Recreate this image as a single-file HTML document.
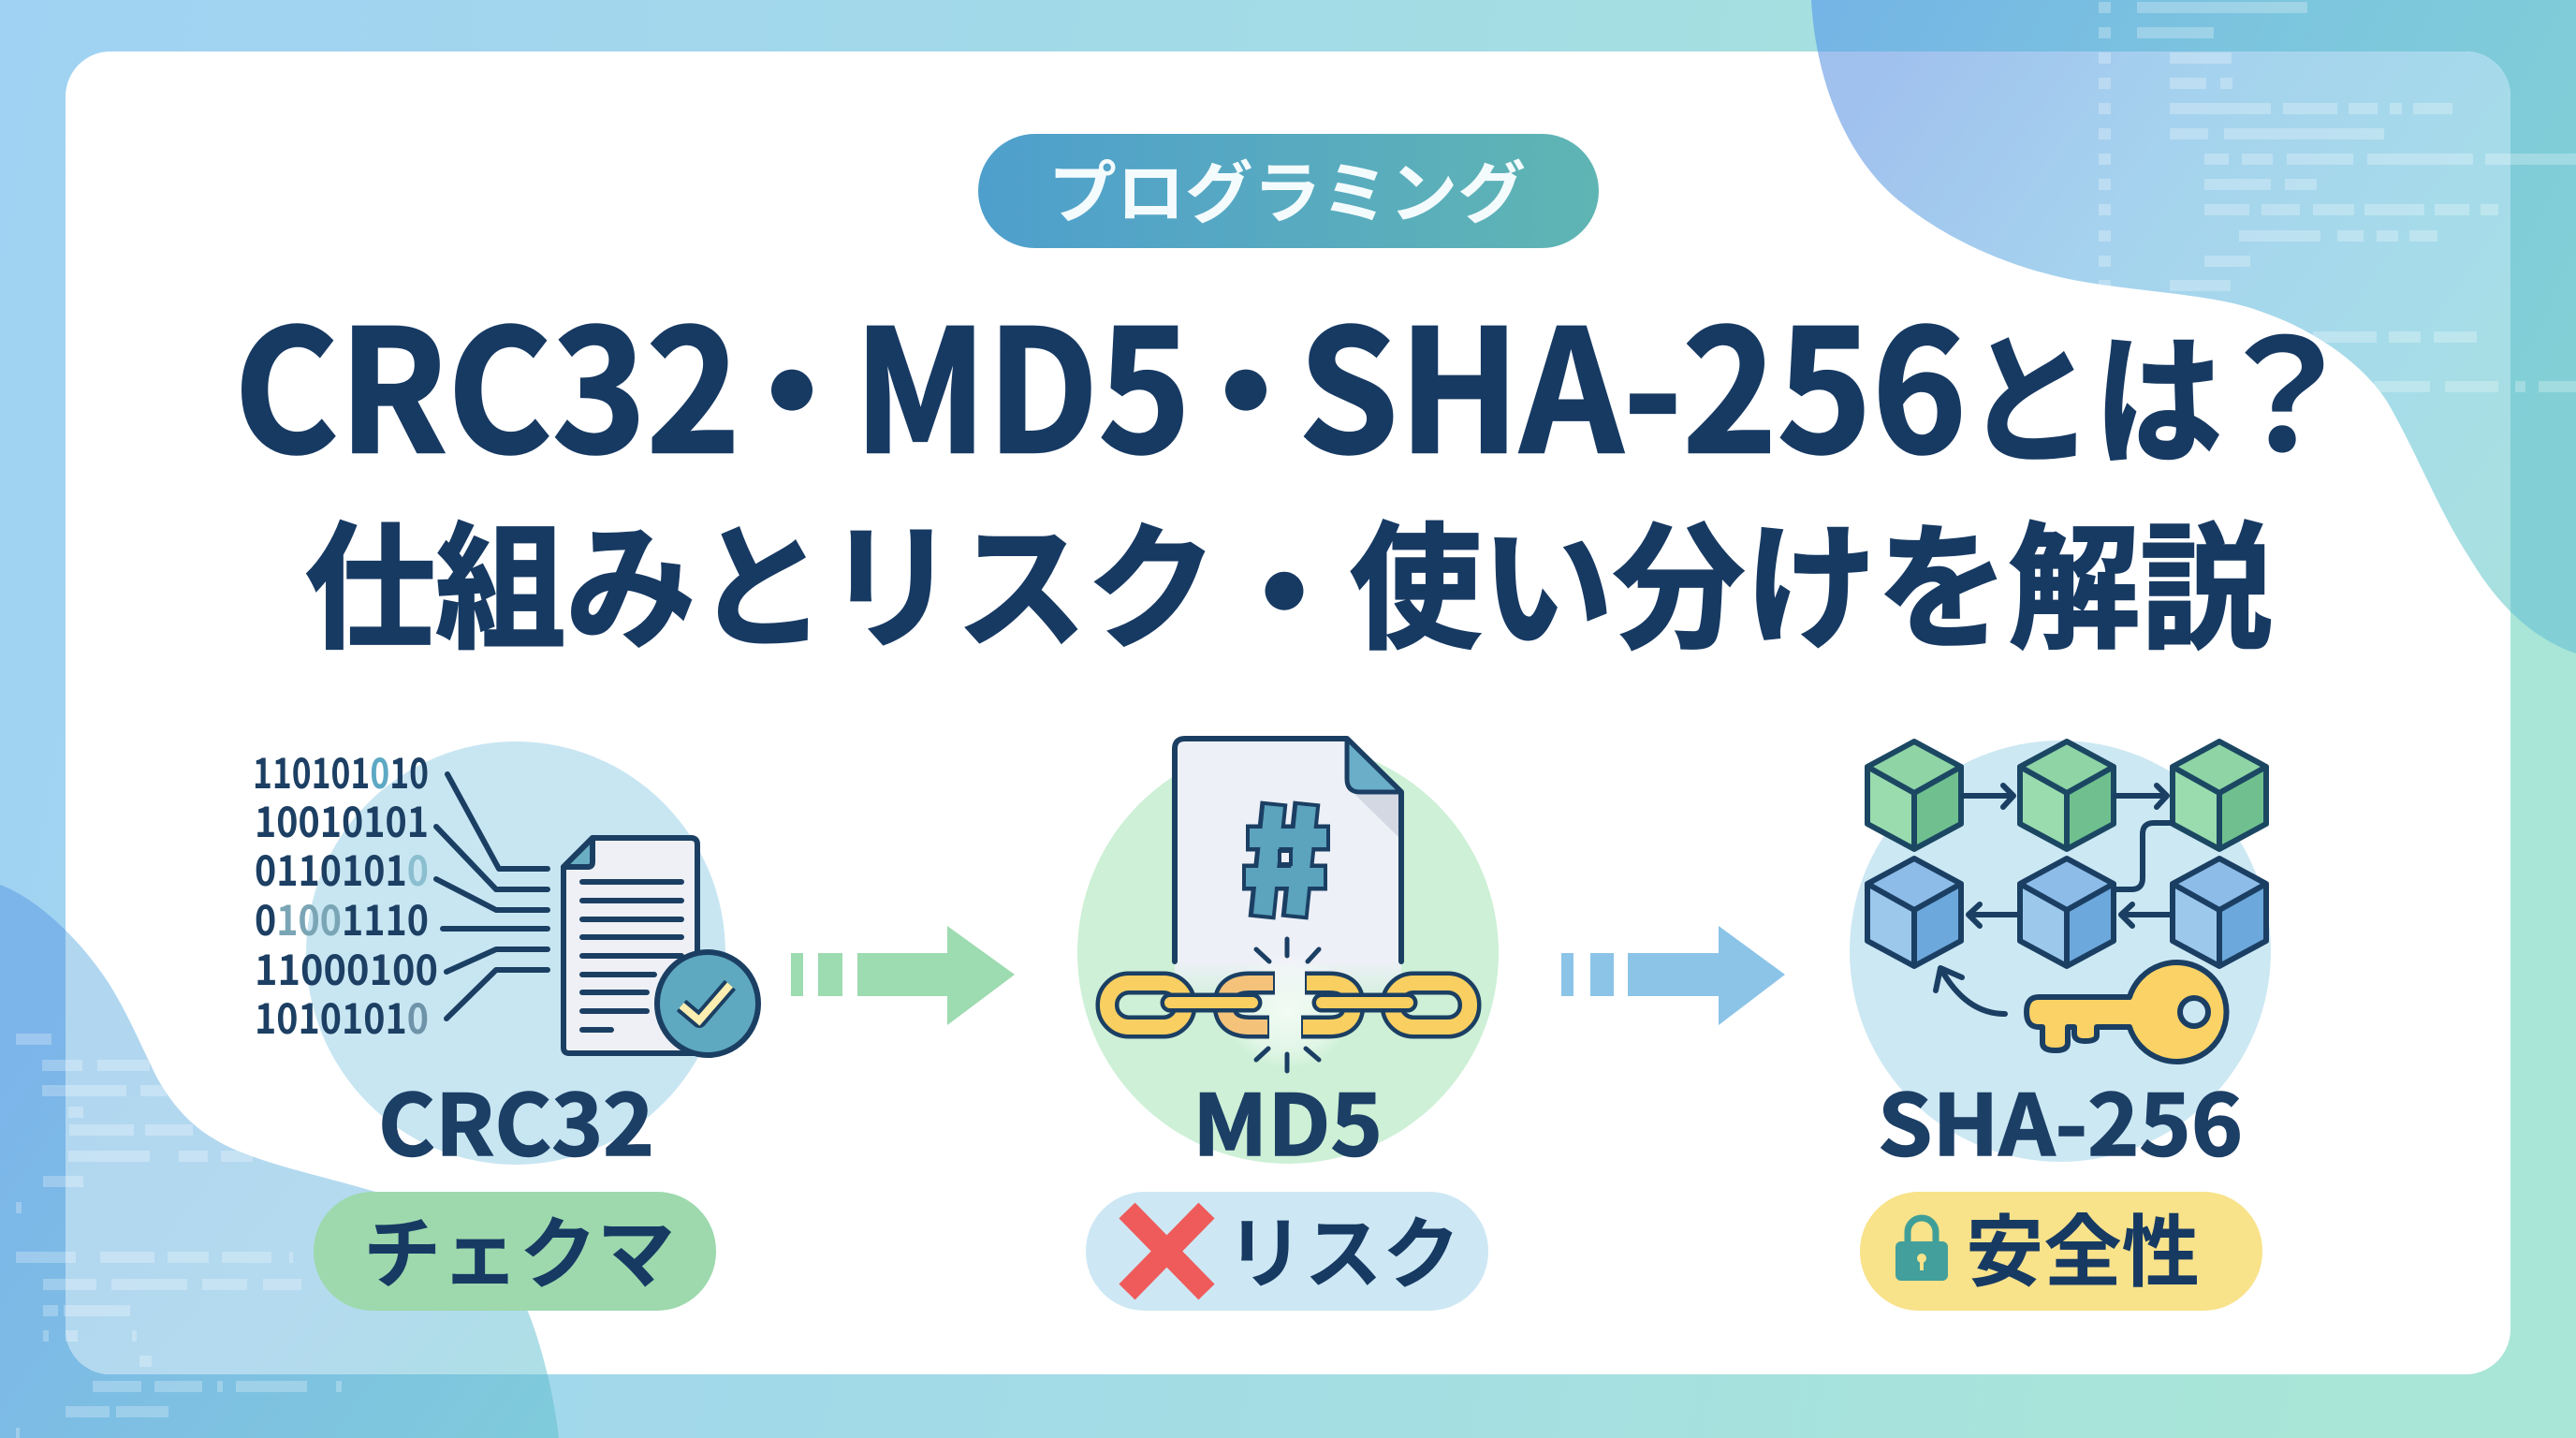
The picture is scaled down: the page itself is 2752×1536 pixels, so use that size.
<!DOCTYPE html>
<html lang="ja"><head><meta charset="utf-8"><title>CRC32・MD5・SHA-256とは？</title>
<style>
html,body{margin:0;padding:0;background:#fff}
svg{display:block}
text{font-family:"Noto Sans CJK JP","Liberation Sans",sans-serif}
.n{font-weight:700;fill:#173a63}
.t{stroke:#173a63;stroke-width:2.5}
.b{font-weight:700;font-size:44px;fill:#1c3f63}
.s{fill:none;stroke:#1b3f63;stroke-width:6;stroke-linecap:round;stroke-linejoin:round}
</style></head><body>
<svg xmlns="http://www.w3.org/2000/svg" width="2752" height="1536" viewBox="0 0 2752 1536">
<defs>
<linearGradient id="bg" x1="0" y1="0" x2="1" y2="0.1"><stop offset="0" stop-color="#a0d2f3"/><stop offset=".5" stop-color="#a3dbe6"/><stop offset="1" stop-color="#a9e6d7"/></linearGradient>
<linearGradient id="tr" gradientUnits="userSpaceOnUse" x1="1935" y1="0" x2="2752" y2="400"><stop offset="0" stop-color="#74b4e6"/><stop offset=".5" stop-color="#7cc5de"/><stop offset="1" stop-color="#82d0d6"/></linearGradient>
<linearGradient id="tri" gradientUnits="userSpaceOnUse" x1="1960" y1="120" x2="2680" y2="620"><stop offset="0" stop-color="#a0c0ee"/><stop offset=".35" stop-color="#a5d2ee"/><stop offset=".7" stop-color="#a6dcea"/><stop offset="1" stop-color="#a8e0e0"/></linearGradient>
<linearGradient id="bl" gradientUnits="userSpaceOnUse" x1="40" y1="1100" x2="600" y2="1500"><stop offset="0" stop-color="#7cb5ea"/><stop offset="1" stop-color="#7fcadb"/></linearGradient>
<linearGradient id="bli" gradientUnits="userSpaceOnUse" x1="70" y1="1050" x2="590" y2="1460"><stop offset="0" stop-color="#b0d6f0"/><stop offset=".6" stop-color="#b4daef"/><stop offset="1" stop-color="#aedfe6"/></linearGradient>
<linearGradient id="pill" x1="0" y1="0" x2="1" y2="0"><stop offset="0" stop-color="#4f9fcd"/><stop offset="1" stop-color="#5fb5b3"/></linearGradient>
<linearGradient id="fade" x1="0" y1="0" x2="0" y2="1"><stop offset="0" stop-color="#eef0f7"/><stop offset="1" stop-color="#eef0f7" stop-opacity="0"/></linearGradient>
<radialGradient id="glow"><stop offset="0" stop-color="#fff" stop-opacity=".75"/><stop offset=".7" stop-color="#fff" stop-opacity=".4"/><stop offset="1" stop-color="#fff" stop-opacity="0"/></radialGradient>
<clipPath id="card"><rect x="70" y="55" width="2612" height="1413" rx="48"/></clipPath>
<clipPath id="blobs"><path d="M1935,0 C1940,90 1975,175 2036,220 C2090,262 2160,290 2226,301 C2290,312 2370,315 2416,333 C2480,355 2530,395 2552,432 C2585,490 2605,545 2639,597 C2665,640 2700,680 2752,698 L2752,0 Z"/><path d="M0,945 C45,962 90,1010 116,1050 C135,1080 150,1115 160,1135 C175,1170 200,1200 228,1216 C265,1240 340,1255 394,1271 C470,1290 535,1340 564,1401 C578,1435 592,1490 597,1536 L0,1536 Z"/></clipPath>
<path id="trp" d="M1935,0 C1940,90 1975,175 2036,220 C2090,262 2160,290 2226,301 C2290,312 2370,315 2416,333 C2480,355 2530,395 2552,432 C2585,490 2605,545 2639,597 C2665,640 2700,680 2752,698 L2752,0 Z"/>
<path id="blp" d="M0,945 C45,962 90,1010 116,1050 C135,1080 150,1115 160,1135 C175,1170 200,1200 228,1216 C265,1240 340,1255 394,1271 C470,1290 535,1340 564,1401 C578,1435 592,1490 597,1536 L0,1536 Z"/>
<g id="cg"><path d="M0,0 L50,27 L50,88 L0,115 L-50,88 L-50,27 Z" fill="#9adcae"/><path d="M0,0 L50,27 L0,55 L-50,27 Z" fill="#8fd4a5"/><path d="M0,55 L50,27 L50,88 L0,115 Z" fill="#6fc08e"/><path d="M0,0 L50,27 L50,88 L0,115 L-50,88 L-50,27 Z M-50,27 L0,55 L50,27 M0,55 V115" fill="none" stroke="#1b4763" stroke-width="6" stroke-linejoin="round"/></g>
<g id="cb"><path d="M0,0 L50,27 L50,88 L0,115 L-50,88 L-50,27 Z" fill="#9cc8ec"/><path d="M0,0 L50,27 L0,55 L-50,27 Z" fill="#8ebce8"/><path d="M0,55 L50,27 L50,88 L0,115 Z" fill="#6ca8dc"/><path d="M0,0 L50,27 L50,88 L0,115 L-50,88 L-50,27 Z M-50,27 L0,55 L50,27 M0,55 V115" fill="none" stroke="#1b3f63" stroke-width="6" stroke-linejoin="round"/></g>
</defs>

<rect width="2752" height="1536" fill="url(#bg)"/>
<use href="#trp" fill="url(#tr)"/>
<use href="#blp" fill="url(#bl)"/>
<rect x="70" y="55" width="2612" height="1413" rx="48" fill="#fff"/>
<g clip-path="url(#card)"><use href="#trp" fill="url(#tri)"/><use href="#blp" fill="url(#bli)"/></g>

<g clip-path="url(#blobs)"><g fill="none" stroke="#fff" stroke-width="12" opacity=".26">
<path d="M2242,8h13M2242,35h13M2242,62h13M2242,89h13M2242,116h13M2242,143h13M2242,170h13M2242,197h13M2242,224h13M2242,252h13M2242,279h13M2242,305h13"/>
<path d="M2283,8H2465M2283,35H2365M2318,62H2384M2318,89H2357M2372,89H2385M2318,116H2426M2439,116H2497M2509,116H2540M2553,116H2566M2578,116H2620M2318,143H2359M2376,143H2547M2355,170H2381M2395,170H2428M2443,170H2514M2529,170H2642M2655,170H2752M2355,197H2426M2441,197H2475M2355,224H2403M2416,224H2457M2471,224H2515M2526,224H2590M2601,224H2638M2650,224H2669M2392,252H2479M2497,252H2525M2539,252H2562M2574,252H2604M2355,279H2404M2318,305H2383M2471,360H2539M2552,360H2586M2600,360H2646M2536,413H2596M2612,413H2669M2687,413H2698M2712,413H2752"/>
<path d="M17,1110H55M45,1138H88M104,1138H160M45,1165H135M150,1165H178M73,1188H89M74,1207H143M155,1207H206M73,1235H160M191,1235H222M236,1235H270M46,1262H89M17,1290H23M17,1343H81M107,1343H165M179,1343H223M237,1343H290M309,1343H313M46,1372H103M119,1372H200M216,1372H264M281,1372H322M46,1400H62M68,1400H139M46,1427H52M70,1427H83M141,1427H146M149,1454H162M99,1481H151M165,1481H216M232,1481H238M252,1481H328M359,1481H365M70,1508H117M124,1508H180M17,1531H21"/>
</g></g>

<!-- top pill -->
<rect x="1045" y="143" width="663" height="122" rx="61" fill="url(#pill)"/>
<text x="1120" y="232" font-size="72" textLength="510" lengthAdjust="spacingAndGlyphs" font-weight="700" fill="#f4fbfd">プログラミング</text>

<!-- title -->
<text class="n t" x="250" y="483" font-size="181" textLength="541" lengthAdjust="spacingAndGlyphs">CRC32</text>
<text class="n" x="846" y="482" font-size="172" text-anchor="middle">・</text>
<text class="n t" x="912" y="483" font-size="181" textLength="360" lengthAdjust="spacingAndGlyphs">MD5</text>
<text class="n" x="1331" y="482" font-size="172" text-anchor="middle">・</text>
<text class="n t" x="1387" y="483" font-size="181" textLength="714" lengthAdjust="spacingAndGlyphs">SHA-256</text>
<text class="n t" x="2100" y="483" font-size="152" textLength="274" lengthAdjust="spacingAndGlyphs">とは</text>
<text class="n" x="2440" y="482" font-size="165" text-anchor="middle">？</text>
<text class="n t" x="326" y="680" font-size="146" textLength="974" lengthAdjust="spacingAndGlyphs">仕組みとリスク</text>
<text class="n" x="1372" y="692" font-size="160" text-anchor="middle">・</text>
<text class="n t" x="1442" y="680" font-size="146" textLength="985" lengthAdjust="spacingAndGlyphs">使い分けを解説</text>

<!-- circles -->
<ellipse cx="551" cy="1018" rx="224" ry="226" fill="#c8e6f2"/>
<ellipse cx="1376" cy="1018" rx="225" ry="225" fill="#cdf0d6"/>
<circle cx="2201" cy="1016" r="225" fill="#cce8f3"/>

<!-- CRC32 icon -->
<text class="b" x="270" y="842" textLength="188" lengthAdjust="spacingAndGlyphs">110101<tspan fill="#5da9c4">0</tspan>10</text>
<text class="b" x="272" y="894" textLength="186" lengthAdjust="spacingAndGlyphs">10010101</text>
<text class="b" x="272" y="946" textLength="186" lengthAdjust="spacingAndGlyphs">0110101<tspan fill="#8bbfcf">0</tspan></text>
<text class="b" x="272" y="999" textLength="186" lengthAdjust="spacingAndGlyphs">0<tspan fill="#7aa5b5">100</tspan>1110</text>
<text class="b" x="272" y="1052" textLength="196" lengthAdjust="spacingAndGlyphs">11000100</text>
<text class="b" x="272" y="1104" textLength="186" lengthAdjust="spacingAndGlyphs">1010101<tspan fill="#6f93a8">0</tspan></text>
<path class="s" d="M478,827L533,928H585M466,883L530,950H585M466,939L530,972H585M473,992H585M477,1038L530,1014H585M477,1088L530,1036H585"/>
<path d="M633,895H738Q745,895 745,902V1125H608Q602,1125 602,1119V926Z" fill="#eef0f6" stroke="#1b3f63" stroke-width="6" stroke-linejoin="round"/>
<path d="M633,895L602,926H628Q633,926 633,921Z" fill="#6aaec4" stroke="#1b3f63" stroke-width="6" stroke-linejoin="round"/>
<path class="s" d="M622,942H728M622,962H728M622,982H728M622,1001H728M622,1021H728M622,1041H699M622,1060H691M622,1080H691M622,1100H653"/>
<ellipse cx="756" cy="1072" rx="54" ry="55" fill="#5fa9c0" stroke="#1b3f63" stroke-width="6"/>
<path d="M728,1074L747,1090L780,1052" fill="none" stroke="#1b3f63" stroke-width="16" stroke-linejoin="round"/>
<path d="M728,1074L747,1090L780,1052" fill="none" stroke="#fbeeb0" stroke-width="8"/>

<!-- arrows -->
<path fill="#9ddbb0" d="M845,1018H858V1064H845ZM874,1018H900V1064H874ZM916,1018H1012V989L1084,1041L1012,1095V1064H916Z"/>
<path fill="#8cc4e8" d="M1668,1018H1681V1064H1668ZM1699,1018H1724V1064H1699ZM1739,1018H1836V989L1907,1041L1836,1095V1064H1739Z"/>

<!-- MD5 icon -->
<path d="M1255,1027V800Q1255,789 1266,789H1439L1497,846V1027Z" fill="#eef0f7"/>
<rect x="1255" y="1026" width="242" height="50" fill="url(#fade)"/>
<ellipse cx="1376" cy="1080" rx="70" ry="62" fill="url(#glow)"/>
<path d="M1497,846V897L1447,848Z" fill="#d3d8e3"/>
<path d="M1255,1027V800Q1255,789 1266,789H1439L1497,846V1027" fill="none" stroke="#1b3f63" stroke-width="6" stroke-linecap="round" stroke-linejoin="round"/>
<path d="M1439,789V832Q1439,846 1453,846H1497Z" fill="#6aaec8" stroke="#1b3f63" stroke-width="5" stroke-linejoin="round"/>
<path d="M1361,857L1348,981M1396,857L1383,981M1331,895H1421M1327,937H1418" fill="none" stroke="#1b3f63" stroke-width="29"/>
<path d="M1361,861L1349,977M1396,861L1384,977M1335,895H1417M1331,937H1414" fill="none" stroke="#5ca3bd" stroke-width="20"/>
<rect x="1367" y="909" width="12" height="14" fill="#eef0f7" stroke="#1b3f63" stroke-width="4"/>
<g fill="none" stroke-linecap="round">
<rect x="1183" y="1050" width="83" height="47" rx="23" stroke="#1b3f63" stroke-width="25"/>
<rect x="1183" y="1050" width="83" height="47" rx="23" stroke="#f8cf60" stroke-width="16"/>
<rect x="1487" y="1050" width="83" height="47" rx="23" stroke="#1b3f63" stroke-width="25"/>
<rect x="1487" y="1050" width="83" height="47" rx="23" stroke="#f8cf60" stroke-width="16"/>
<path d="M1362,1050H1335Q1308,1050 1308,1073Q1308,1097 1335,1097H1356" stroke="#1b3f63" stroke-width="25" stroke-linecap="butt"/>
<path d="M1360,1050H1335Q1308,1050 1308,1073Q1308,1097 1335,1097H1354" stroke="#f5c27a" stroke-width="16" stroke-linecap="butt"/>
<path d="M1394,1050H1420Q1446,1050 1446,1073Q1446,1097 1420,1097H1390" stroke="#1b3f63" stroke-width="25" stroke-linecap="butt"/>
<path d="M1396,1050H1420Q1446,1050 1446,1073Q1446,1097 1420,1097H1392" stroke="#f8cf60" stroke-width="16" stroke-linecap="butt"/>
<path d="M1250,1071H1338M1412,1071H1504" stroke="#1b3f63" stroke-width="21"/>
<path d="M1250,1071H1338M1412,1071H1504" stroke="#f8cf60" stroke-width="12"/>
<path d="M1375,1003V1021M1342,1014L1356,1027M1409,1014L1397,1027M1375,1126V1144M1355,1120L1342,1132M1395,1120L1409,1132" stroke="#1b3f63" stroke-width="5"/>
</g>

<!-- SHA icon -->
<use href="#cg" x="2045" y="792"/><use href="#cg" x="2208" y="792"/><use href="#cg" x="2371" y="792"/>
<use href="#cb" x="2045" y="917"/><use href="#cb" x="2208" y="917"/><use href="#cb" x="2371" y="917"/>
<path class="s" d="M2097,850H2150M2140,839L2151,850L2140,862M2260,850H2314M2304,839L2315,850L2304,862M2157,977H2104M2115,966L2103,977L2115,989M2321,977H2266M2278,966L2266,977L2278,989M2321,879H2301Q2289,879 2289,891V938Q2289,950 2277,950H2260M2142,1083Q2100,1083 2073,1034M2068,1058L2073,1034L2096,1044"/>
<path d="M2178,1065H2275A53,53 0 1 1 2275,1097H2240V1106Q2240,1112 2227,1112Q2216,1112 2216,1104V1097H2209V1114Q2209,1122 2196,1122Q2182,1122 2182,1114V1097H2178Q2165,1097 2165,1081Q2165,1065 2178,1065Z" fill="#fbd266" stroke="#1b3f63" stroke-width="6" stroke-linejoin="round"/>
<circle cx="2344" cy="1081" r="15" fill="#cce8f3" stroke="#1b3f63" stroke-width="6"/>

<!-- labels -->
<text class="n t" style="fill:#1c3f66;stroke:#1c3f66;stroke-width:1.5" font-size="90" x="404" y="1234" textLength="295" lengthAdjust="spacingAndGlyphs">CRC32</text>
<text class="n t" style="fill:#1c3f66;stroke:#1c3f66;stroke-width:1.5" font-size="90" x="1274" y="1234" textLength="203" lengthAdjust="spacingAndGlyphs">MD5</text>
<text class="n t" style="fill:#1c3f66;stroke:#1c3f66;stroke-width:1.5" font-size="90" x="2006" y="1234" textLength="390" lengthAdjust="spacingAndGlyphs">SHA-256</text>

<!-- pills -->
<rect x="335" y="1273" width="430" height="127" rx="63" fill="#9dd9ad"/>
<rect x="1160" y="1273" width="430" height="127" rx="63" fill="#cde8f4"/>
<rect x="1987" y="1273" width="430" height="127" rx="63" fill="#f8e28a"/>
<text class="n" x="388" y="1369" font-size="84" textLength="333" lengthAdjust="spacingAndGlyphs">チェクマ</text>
<text class="n" x="1310" y="1369" font-size="84" textLength="250" lengthAdjust="spacingAndGlyphs">リスク</text>
<text class="n" x="2100" y="1367" font-size="84" textLength="250" lengthAdjust="spacingAndGlyphs">安全性</text>
<path d="M1204,1293L1289,1380M1289,1293L1204,1380" stroke="#ef5b5b" stroke-width="24" fill="none"/>
<path d="M2038,1328V1316A15,15 0 0 1 2068,1316V1328" fill="none" stroke="#3f9f98" stroke-width="7"/>
<rect x="2025" y="1326" width="56" height="42" rx="6" fill="#429f9c"/>
<circle cx="2053" cy="1344" r="5" fill="#f8e28a"/><rect x="2051" y="1345" width="4" height="12" fill="#f8e28a"/>
</svg>
</body></html>
